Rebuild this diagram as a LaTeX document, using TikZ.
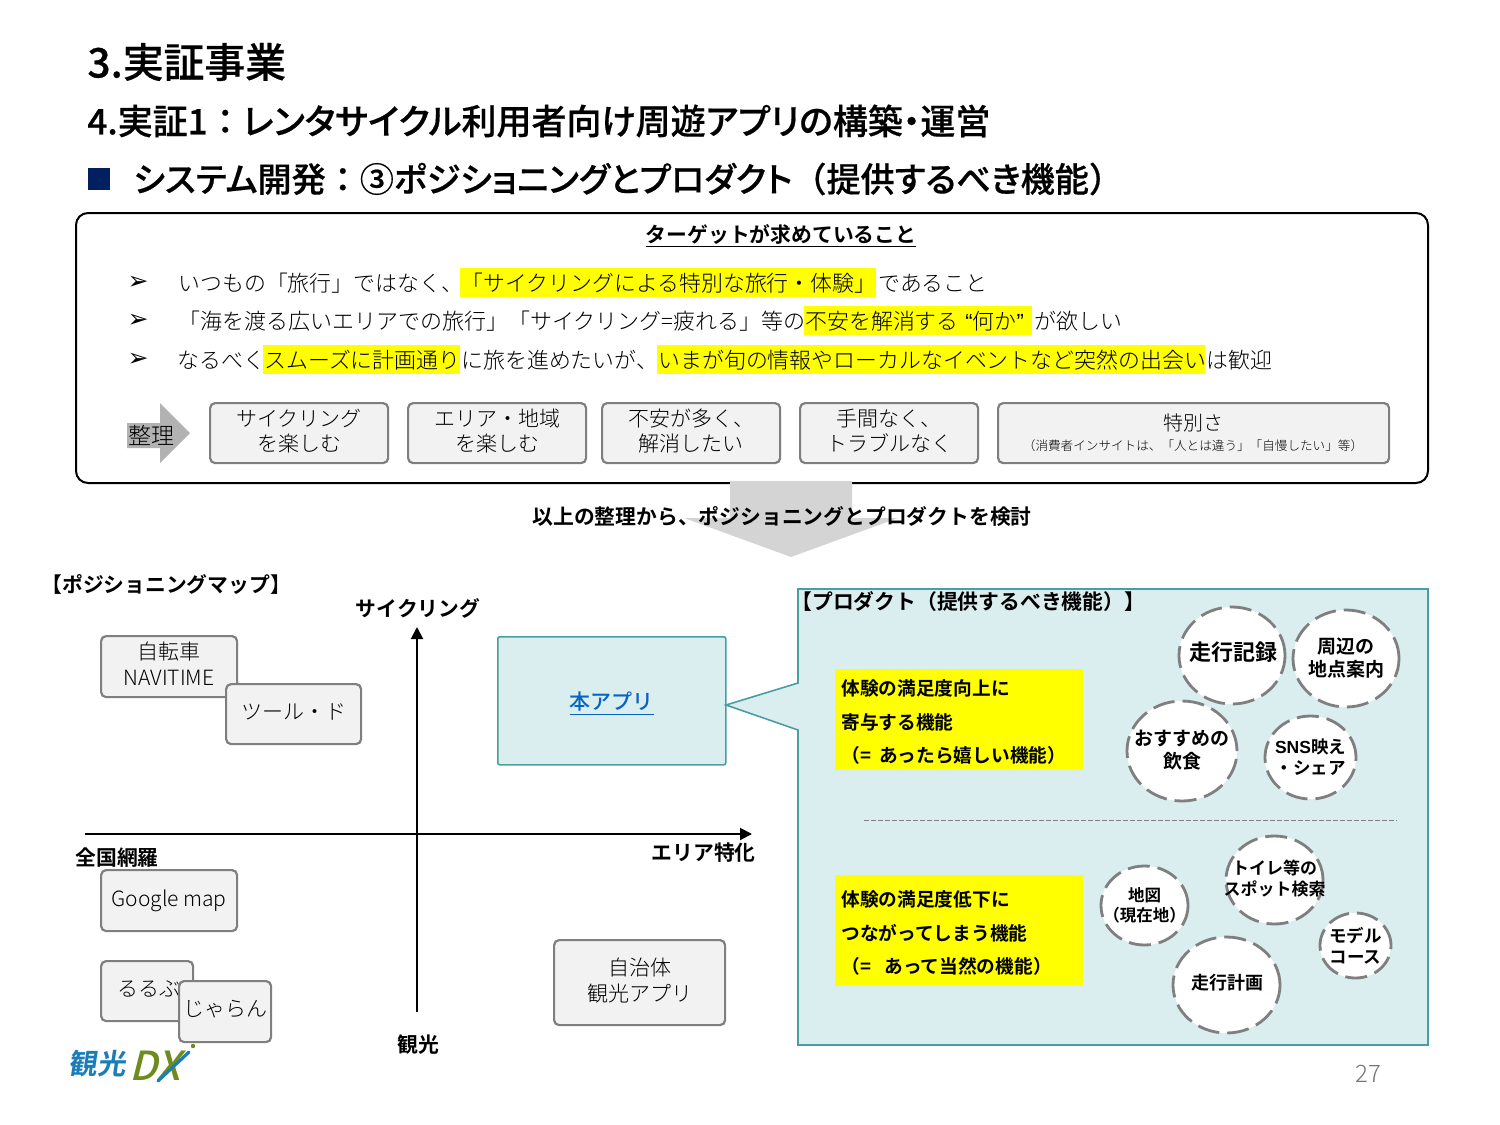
\documentclass[tikz,border=0pt]{standalone}
\usepackage{fontspec}
\usetikzlibrary{shapes.geometric,arrows.meta}
\setmainfont{Noto Sans CJK JP Light}[BoldFont={Noto Sans CJK JP Bold}]
\newfontfamily\ttl{Noto Sans CJK JP Medium}[RawFeature=+palt,FakeBold=0.5]
\newfontfamily\ttf{Noto Sans CJK JP Medium}[FakeBold=0.5]
\newfontfamily\mdm{Noto Sans CJK JP Medium}
\newfontfamily\sym{DejaVu Sans}
\newfontfamily\lat{Liberation Sans}
\newcommand\px[2]{\fontsize{\fpeval{#1/2}pt}{\fpeval{#2/2}pt}\selectfont}
\definecolor{boxgray}{HTML}{F2F2F2}
\definecolor{edgegray}{HTML}{7F7F7F}
\definecolor{teal1}{HTML}{DAEDEF}
\definecolor{teal2}{HTML}{4A9EA3}
\definecolor{navy}{HTML}{002060}
\definecolor{hl}{HTML}{FFFF00}
\definecolor{linkblue}{HTML}{0563C1}
\definecolor{logoblue}{HTML}{1B7DB8}
\definecolor{logogreen}{HTML}{6E8B1E}
\definecolor{arrowgray}{HTML}{D4D4D4}
\tikzset{
  title/.style={anchor=west,inner sep=0,font=\ttl\px{35}{40},text=black},
  seg/.style={anchor=west,inner sep=0,font=\px{21.9}{26},text=black},
  graybox/.style={draw=edgegray,line width=1.1pt,fill=boxgray,rounded corners=2.5pt,align=center,inner sep=0,text=black,font=\px{21}{25.5},text depth=2.9pt},
  lbl/.style={inner sep=0,font=\bfseries\px{20.8}{24},text=black},
  dash circle/.style={ellipse,draw=edgegray,line width=1.4pt,fill=white,dash pattern=on 11pt off 4pt,inner sep=0},
  ctext/.style={inner sep=0,align=center,text=black,font=\bfseries\px{19}{23}},
  yellowbox/.style={fill=hl,draw=none,anchor=north west,inner sep=0},
  yline/.style={anchor=west,inner sep=0,font=\bfseries\px{18.7}{22},text=black},
}
\begin{document}
\begin{tikzpicture}[x=0.5pt,y=-0.5pt]
\useasboundingbox (0,0) rectangle (1500,1125);
% titles
\node[title,font=\ttl\px{40.8}{44}] (t1) at (87,62) {3.実証事業};
\node[title] (t2) at (87,121) {4.実証1{\ttf ：}レンタサイクル利用者向け周遊アプリの構築・運営};
\node[fill=navy,minimum width=11pt,minimum height=11pt,inner sep=0,anchor=north west] (sq) at (88,168) {};
\node[title,font=\ttl\px{34.1}{40}] (t3) at (133,179) {システム開発{\ttf ：}③ポジショニングとプロダクト{\ttf （}提供するべき機能{\ttf ）}};
% main box
\draw[black,line width=1pt,fill=white,rounded corners=6pt] (76,213) rectangle (1428,483);
% big gray arrow
\fill[arrowgray] (730,481) -- (852,481) -- (852,518) -- (898,518) -- (791,557) -- (684,518) -- (730,518) -- cycle;
\node[lbl] (conc) at (782,516) {以上の整理から、ポジショニングとプロダクトを検討};
\node[inner sep=0,font=\bfseries\px{20.8}{24}] (tgt) at (781,236) {\underline{ターゲットが求めていること}};
% bullets
\node[inner sep=0,font=\sym\px{25}{26}] (b1) at (138,283) {➢};
\node[inner sep=0,font=\sym\px{25}{26}] (b2) at (138,321) {➢};
\node[inner sep=0,font=\sym\px{25}{26}] (b3) at (138,360) {➢};
% highlights
\fill[hl] (460,268) rectangle (876,297);
\fill[hl] (804,306) rectangle (1032,335);
\fill[hl] (263,345) rectangle (460,374);
\fill[hl] (657,345) rectangle (1205,374);
% line 1
\node[seg] (l1a) at (178,283) {いつもの「旅行」ではなく、};
\node[seg] (l1b) at (461,283) {「サイクリングによる特別な旅行・体験」};
\node[seg] (l1c) at (878,283) {であること};
% line 2
\node[seg,font=\px{22}{26}] (l2a) at (178,321) {「海を渡る広いエリアでの旅行」「サイクリング=疲れる」等の};
\node[seg] (l2b) at (805,321) {不安を解消する};
\node[seg] (l2c) at (965,321) {{\lat “}何か{\lat ”}};
\node[seg] (l2d) at (1034,321) {が欲しい};
% line 3
\node[seg] (l3a) at (177,360) {なるべく};
\node[seg] (l3b) at (264,360) {スムーズに計画通り};
\node[seg] (l3c) at (461,360) {に旅を進めたいが、};
\node[seg] (l3d) at (658,360) {いまが旬の情報やローカルなイベントなど突然の出会い};
\node[seg] (l3e) at (1206,360) {は歓迎};
% seiri arrow
\fill[black!30] (127,423) -- (160,423) -- (160,403) -- (190,433) -- (160,463) -- (160,448) -- (127,448) -- cycle;
\node[inner sep=0,anchor=west,font=\px{23}{26},text=black] (seiri) at (128,435) {整理};
% top boxes
\node[graybox,anchor=north west,minimum width=89pt,minimum height=30pt] (k1) at (209,402) {サイクリング\\を楽しむ};
\node[graybox,anchor=north west,minimum width=89pt,minimum height=30pt] (k2) at (407,402) {エリア・地域\\を楽しむ};
\node[graybox,anchor=north west,minimum width=89pt,minimum height=30pt] (k3) at (601,402) {不安が多く、\\解消したい};
\node[graybox,anchor=north west,minimum width=89pt,minimum height=30pt] (k4) at (799,402) {手間なく、\\トラブルなく};
\node[graybox,anchor=north west,minimum width=195.5pt,minimum height=30pt] (k5) at (997,402) {};
\node[inner sep=0,font=\px{20}{24},text=black] (k5a) at (1193,423) {特別さ};
\node[inner sep=0,font=\px{12.6}{14},text=black] (k5b) at (1193,446) {（消費者インサイトは、「人とは違う」「自慢したい」等）};
% map
\node[lbl,anchor=west] (maptitle) at (41,584) {【ポジショニングマップ】};
\coordinate (vtop) at (417,627);
\coordinate (vbot) at (417,1012);
\coordinate (hleft) at (85,834);
\coordinate (hright) at (752,834);
\draw[line width=1pt,-{Triangle[length=6pt,width=6pt]}] (vbot) -- (vtop);
\draw[line width=1pt,-{Triangle[length=6pt,width=6pt]}] (hleft) -- (hright);
\node[lbl] (ay1) at (418,608) {サイクリング};
\node[lbl] (ay2) at (418,1045) {観光};
\node[lbl,anchor=west] (ax1) at (75,858) {全国網羅};
\node[lbl,anchor=east] (ax2) at (756,853) {エリア特化};
\node[graybox,anchor=north west,minimum width=68pt,minimum height=30.5pt] (m1) at (100,635) {自転車\\NAVITIME};
\node[graybox,anchor=north west,minimum width=67.5pt,minimum height=30pt] (m2) at (225,683) {ツール・ド};
\node[graybox,anchor=north west,minimum width=68pt,minimum height=30.5pt] (m3) at (100,869) {Google map};
\node[graybox,anchor=north west,minimum width=46pt,minimum height=30pt,text width=46pt,align=left] (m4) at (100,960) {\hspace{8pt}るるぶ};
\node[graybox,anchor=north west,minimum width=46pt,minimum height=30.5pt] (m5) at (178,980) {じゃらん};
\node[graybox,anchor=north west,minimum width=85.5pt,minimum height=42.5pt] (m6) at (553,939) {自治体\\観光アプリ};
\node[draw=teal2,line width=0.8pt,fill=teal1,anchor=north west,minimum width=114pt,minimum height=64pt,rounded corners=1pt,inner sep=0,font=\mdm\px{21}{25},text=linkblue,text depth=0pt] (app) at (497,636) {\underline{本アプリ}};
% product panel with callout
\coordinate (tail) at (726,705);
\draw[draw=teal2,line width=0.8pt,fill=teal1] (798,589) -- (1428,589) -- (1428,1045) -- (798,1045) -- (798,730) -- (tail) -- (798,683) -- cycle;
\node[lbl,anchor=west] (ptitle) at (791,602) {【プロダクト（提供するべき機能）】};
\node[yellowbox,minimum width=124pt,minimum height=50.5pt] (y1) at (835,669) {};
\node[yline] (y1a) at (841,688) {体験の満足度向上に};
\node[yline] (y1b) at (841,722) {寄与する機能};
\node[yline] (y1c) at (841,755) {（=\hspace{4pt}あったら嬉しい機能）};
\node[yellowbox,minimum width=124pt,minimum height=55.5pt] (y2) at (835,875) {};
\node[yline] (y2a) at (841,899) {体験の満足度低下に};
\node[yline] (y2b) at (841,933) {つながってしまう機能};
\node[yline] (y2c) at (841,966) {（= \hspace{4.5pt}あって当然の機能）};
\coordinate (dl) at (864,820);
\coordinate (dr) at (1397,820);
\draw[edgegray,line width=0.5pt,dash pattern=on 2.5pt off 1pt] (dl) -- (dr);
% circles
\node[dash circle,minimum width=53pt,minimum height=48.5pt] (c1) at (1232,655.5) {};
\node[ctext,font=\bfseries\px{22}{26}] (c1t) at (1233,652.5) {走行記録};
\node[dash circle,minimum width=53pt,minimum height=48.5pt] (c2) at (1346,658.5) {};
\node[ctext] (c2t) at (c2) {周辺の\\地点案内};
\node[dash circle,minimum width=55pt,minimum height=50pt] (c3) at (1182,751) {};
\node[ctext] (c3t) at (1182,750) {おすすめの\\飲食};
\node[dash circle,minimum width=45.5pt,minimum height=41.5pt] (c4) at (1310.5,757.5) {};
\node[ctext,font=\bfseries\px{17.5}{21}] (c4t) at (c4) {{\lat SNS}映え\\・シェア};
\node[dash circle,minimum width=43.5pt,minimum height=39.5pt] (c5) at (1144.5,905.5) {};
\node[ctext,font=\bfseries\px{16.5}{20}] (c5t) at (c5) {地図\\（現在地）};
\node[dash circle,minimum width=48.5pt,minimum height=44pt] (c6) at (1274.5,880) {};
\node[ctext,font=\bfseries\px{17}{21}] (c6t) at (1274.5,879) {トイレ等の\\スポット検索};
\node[dash circle,minimum width=35.5pt,minimum height=32.5pt] (c7) at (1355.5,945.5) {};
\node[ctext,font=\bfseries\px{17.5}{21}] (c7t) at (c7) {モデル\\コース};
\node[dash circle,minimum width=53.5pt,minimum height=48pt] (c8) at (1226.5,985) {};
\node[ctext,font=\bfseries\px{18}{22}] (c8t) at (1227,983) {走行計画};
% logo
\node[inner sep=0,anchor=west,font=\bfseries\px{28.5}{32},text=logoblue,xslant=0.15] (logo1) at (70,1064) {観光};
\node[inner sep=0,anchor=west,font=\mdm\px{40}{44},text=logogreen,xslant=0.25] (logo2) at (133,1066) {DX};
\coordinate (xa) at (158,1081);
\coordinate (xb) at (189,1052);
\draw[logoblue,line width=1.6pt,line cap=round] (xa) -- (xb);
\fill[logogreen] (193,1046) circle (1.1pt);
% page number
\node[inner sep=0,font=\px{24}{26},text=black!55] (pn) at (1368,1074) {27};
\end{tikzpicture}
\end{document}
